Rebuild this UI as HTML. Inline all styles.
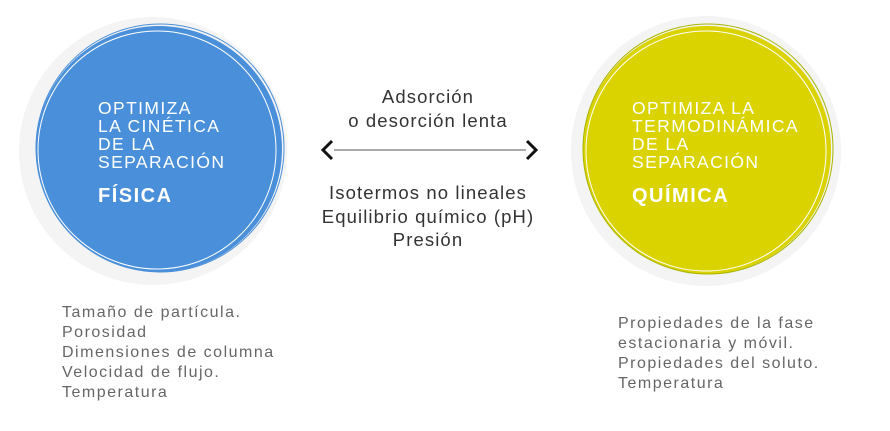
<!DOCTYPE html>
<html><head><meta charset="utf-8"><style>
body{margin:0;width:890px;height:431px;background:#fff;position:relative;overflow:hidden;font-family:"Liberation Sans",sans-serif}
.t{position:absolute;white-space:nowrap}
.h{color:#fff;font-size:17.5px;line-height:18px;letter-spacing:1.4px}
.b{color:#fff;font-size:20px;font-weight:bold;letter-spacing:1.5px}
.m{color:#333;font-size:18.5px;line-height:23.5px;text-align:center;width:300px;left:278px;letter-spacing:1.1px}
.l{color:#666;font-size:16px;line-height:20px;letter-spacing:1.5px}
</style></head><body>
<svg width="890" height="431" style="position:absolute;left:0;top:0">
<circle cx="153" cy="151" r="134" fill="#f4f4f4"/>
<circle cx="159" cy="149" r="123" fill="#4a8fd9"/>
<circle cx="157" cy="150" r="119" fill="none" stroke="#fff" stroke-width="1"/>
<circle cx="160" cy="148" r="124" fill="none" stroke="#4a8fd9" stroke-width="1"/>
<circle cx="706" cy="151" r="135" fill="#f4f4f4"/>
<circle cx="707" cy="150" r="124" fill="#dbd300"/>
<circle cx="706" cy="151" r="120" fill="none" stroke="#fff" stroke-width="1"/>
<circle cx="708" cy="149" r="125" fill="none" stroke="#a8b400" stroke-width="1"/>
<line x1="334" y1="150" x2="526" y2="150" stroke="#555" stroke-width="1"/>
<polyline points="332,141 323,150 332,159" fill="none" stroke="#111" stroke-width="3"/>
<polyline points="527,141 536,150 527,159" fill="none" stroke="#111" stroke-width="3"/>
</svg>
<div class="t h" style="left:98px;top:99px">OPTIMIZA<br>LA CINÉTICA<br>DE LA<br>SEPARACIÓN</div>
<div class="t b" style="left:98px;top:185px">FÍSICA</div>
<div class="t h" style="left:632px;top:99px">OPTIMIZA LA<br>TERMODINÁMICA<br>DE LA<br>SEPARACIÓN</div>
<div class="t b" style="left:632px;top:185px">QUÍMICA</div>
<div class="t m" style="top:85px">Adsorción<br>o desorción lenta</div>
<div class="t m" style="top:181px">Isotermos no lineales<br>Equilibrio químico (pH)<br>Presión</div>
<div class="t l" style="left:62px;top:303px">Tamaño de partícula.<br>Porosidad<br>Dimensiones de columna<br>Velocidad de flujo.<br>Temperatura</div>
<div class="t l" style="left:618px;top:314px">Propiedades de la fase<br>estacionaria y móvil.<br>Propiedades del soluto.<br>Temperatura</div>
</body></html>
